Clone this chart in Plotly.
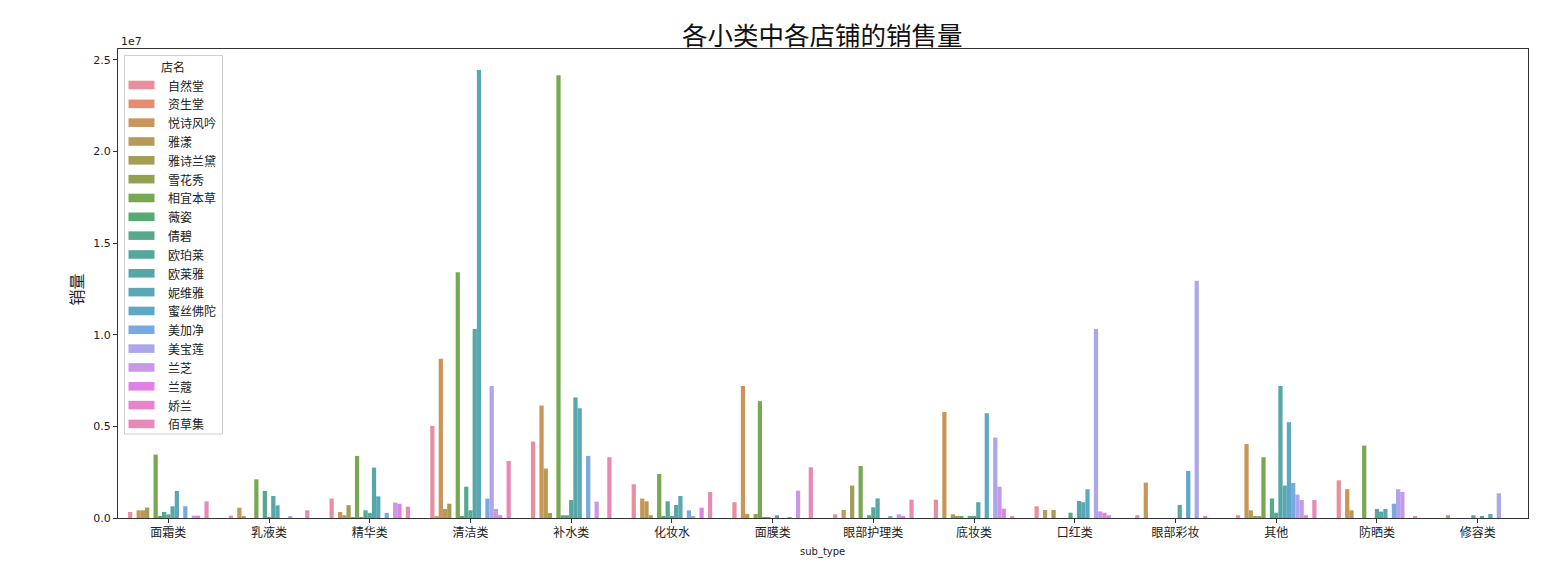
import math
import colorsys
import plotly.graph_objects as go

# ---------------- data ----------------
categories = ["面霜类", "乳液类", "精华类", "清洁类", "补水类", "化妆水", "面膜类",
              "眼部护理类", "底妆类", "口红类", "眼部彩妆", "其他", "防晒类", "修容类"]
stores = ["自然堂", "资生堂", "悦诗风吟", "雅漾", "雅诗兰黛", "雪花秀", "相宜本草", "薇姿",
          "倩碧", "欧珀莱", "欧莱雅", "妮维雅", "蜜丝佛陀", "美加净", "美宝莲", "兰芝",
          "兰蔻", "娇兰", "佰草集"]

# sales per category, one value per store (same order as `stores`)
mianshuang = [0.33e6, 0, 0.42e6, 0.42e6, 0.57e6, 0, 3.46e6, 0.1e6, 0.33e6, 0.2e6, 0.64e6, 1.48e6, 0, 0.64e6, 0, 0.13e6, 0.13e6, 0, 0.91e6]
ruye = [0.13e6, 0, 0.56e6, 0.07e6, 0, 0, 2.11e6, 0, 1.48e6, 0.05e6, 1.2e6, 0.69e6, 0, 0, 0.07e6, 0, 0, 0, 0.42e6]
jinghua = [1.06e6, 0, 0.33e6, 0.15e6, 0.7e6, 0.05e6, 3.39e6, 0.03e6, 0.42e6, 0.28e6, 2.75e6, 1.18e6, 0, 0.28e6, 0, 0.84e6, 0.78e6, 0, 0.62e6]
qingjie = [5.03e6, 0.07e6, 8.69e6, 0.49e6, 0.78e6, 0, 13.42e6, 0.07e6, 1.71e6, 0.42e6, 10.31e6, 24.46e6, 0, 1.06e6, 7.21e6, 0.49e6, 0.15e6, 0, 3.11e6]
bushui = [4.17e6, 0, 6.14e6, 2.7e6, 0.27e6, 0, 24.17e6, 0.15e6, 0.15e6, 0.98e6, 6.58e6, 5.99e6, 0, 3.39e6, 0, 0.89e6, 0, 0, 3.32e6]
huazhuangshui = [1.84e6, 0, 1.06e6, 0.91e6, 0.15e6, 0, 2.4e6, 0.1e6, 0.91e6, 0.1e6, 0.71e6, 1.2e6, 0, 0.42e6, 0.1e6, 0, 0.56e6, 0, 1.42e6]
mianmo = [0.86e6, 0, 7.21e6, 0.22e6, 0, 0.22e6, 6.38e6, 0.05e6, 0.05e6, 0, 0.15e6, 0, 0, 0.05e6, 0, 1.49e6, 0, 0, 2.77e6]
yanbuhuli = [0.2e6, 0, 0.44e6, 0, 1.77e6, 0, 2.84e6, 0, 0.15e6, 0.58e6, 1.07e6, 0, 0, 0.09e6, 0, 0.2e6, 0.09e6, 0, 1.0e6]
dizhuang = [1.0e6, 0, 5.79e6, 0, 0.2e6, 0.09e6, 0.09e6, 0, 0.07e6, 0.07e6, 0.86e6, 0, 5.72e6, 0, 4.39e6, 1.71e6, 0.51e6, 0, 0.09e6]
kouhong = [0.64e6, 0, 0.44e6, 0, 0.44e6, 0, 0, 0, 0.29e6, 0, 0.93e6, 0.86e6, 1.57e6, 0, 10.31e6, 0.36e6, 0.29e6, 0.15e6, 0]
yanbucaizhuang = [0.15e6, 0, 1.93e6, 0, 0, 0, 0, 0, 0, 0, 0.71e6, 0, 2.57e6, 0, 12.95e6, 0, 0.07e6, 0, 0]
qita = [0.15e6, 0, 4.04e6, 0.42e6, 0.1e6, 0.1e6, 3.32e6, 0, 1.07e6, 0.29e6, 7.21e6, 1.77e6, 5.23e6, 1.91e6, 1.28e6, 0.98e6, 0.15e6, 0, 0.98e6]
fangshai = [2.06e6, 0, 1.57e6, 0.42e6, 0, 0, 3.95e6, 0, 0, 0.49e6, 0.35e6, 0.49e6, 0, 0.78e6, 1.57e6, 1.42e6, 0, 0, 0.07e6]
xiurong = [0, 0, 0.15e6, 0, 0, 0, 0, 0, 0.15e6, 0, 0.07e6, 0, 0.22e6, 0, 1.35e6, 0, 0, 0, 0]

by_category = [mianshuang, ruye, jinghua, qingjie, bushui, huazhuangshui, mianmo,
               yanbuhuli, dizhuang, kouhong, yanbucaizhuang, qita, fangshai, xiurong]

y_tick_vals = [0, 0.5e7, 1.0e7, 1.5e7, 2.0e7, 2.5e7]
y_tick_text = ["0.0", "0.5", "1.0", "1.5", "2.0", "2.5"]

# ---------------- colours (seaborn husl palette, desaturated, slightly transparent) ----------------
_M = [[3.240969941904521, -1.537383177570093, -0.498610760293],
      [-0.96924363628087, 1.87596750150772, 0.041555057407175],
      [0.055630079696993, -0.20397695888897, 1.056971514242878]]
_refU, _refV = 0.19783000664283, 0.46831999493879
_kappa, _eps = 903.2962962, 0.0088564516


def _max_chroma(L, H):
    hr = math.radians(H)
    sinH, cosH = math.sin(hr), math.cos(hr)
    sub1 = (L + 16) ** 3 / 1560896.0
    sub2 = sub1 if sub1 > _eps else L / _kappa
    res = float("inf")
    for m1, m2, m3 in _M:
        top = (0.99915 * m1 + 1.05122 * m2 + 1.14460 * m3) * sub2
        rb = 0.86330 * m3 - 0.17266 * m2
        lb = 0.12949 * m3 - 0.38848 * m1
        bottom = (rb * sinH + lb * cosH) * sub2
        for t in (0.0, 1.0):
            C = L * (top - 1.05122 * t) / (bottom + 0.17266 * sinH * t)
            if 0.0 < C < res:
                res = C
    return res


def _from_linear(c):
    return 12.92 * c if c <= 0.0031308 else 1.055 * c ** (1 / 2.4) - 0.055


def husl_to_rgb(h, s, l):
    C = _max_chroma(l, h) / 100.0 * s
    hr = math.radians(h)
    U, V = math.cos(hr) * C, math.sin(hr) * C
    Y = ((l + 16.0) / 116.0) ** 3 if l > 8 else l / _kappa
    vu = U / (13.0 * l) + _refU
    vv = V / (13.0 * l) + _refV
    X = 0.0 - (9.0 * Y * vu) / ((vu - 4.0) * vv - vu * vv)
    Z = (9.0 * Y - 15.0 * vv * Y - vv * X) / (3.0 * vv)
    return [min(1, max(0, _from_linear(a * X + b * Y + c * Z))) for a, b, c in _M]


def palette(n, alpha=0.9):
    out = []
    for i in range(n):
        h = ((i / n) + 0.01) % 1 * 359
        r, g, b = husl_to_rgb(h, 0.9 * 99, 0.65 * 99)
        hh, ll, ss = colorsys.rgb_to_hls(r, g, b)
        r, g, b = colorsys.hls_to_rgb(hh, ll, ss * 0.75)
        r, g, b = [alpha * c + (1 - alpha) for c in (r, g, b)]
        out.append("rgb(%d,%d,%d)" % (round(r * 255), round(g * 255), round(b * 255)))
    return out


colors = palette(len(stores))

# ---------------- figure ----------------
fig = go.Figure()
for j, store in enumerate(stores):
    fig.add_trace(go.Bar(
        x=categories,
        y=[vals[j] for vals in by_category],
        name=store,
        marker=dict(color=colors[j], line=dict(width=0)),
        showlegend=False,
    ))

OFF = 8  # page body margin
L, R, T, B = 117.5 - OFF, 36.3, 49 - OFF, 48
W, H = 1564 - OFF, 566 - OFF
PW, PH = W - L - R, H - T - B


def px(x):
    return (x - OFF - L) / PW


def py(y):
    return (H - B - (y - OFF)) / PH


shapes = []
annotations = []

# legend box
shapes.append(dict(type="rect", xref="paper", yref="paper",
                   x0=px(124), x1=px(222), y0=py(434), y1=py(55.5),
                   line=dict(color="#d0d0d0", width=1), fillcolor="rgba(255,255,255,0.8)", layer="above"))
annotations.append(dict(text="店名", xref="paper", yref="paper", x=px(173), y=py(66),
                        showarrow=False, xanchor="center", yanchor="middle",
                        font=dict(family="Noto Sans CJK SC", size=12, color="#222")))
for j, store in enumerate(stores):
    yc = 85 + j * 18.83
    shapes.append(dict(type="rect", xref="paper", yref="paper",
                       x0=px(128), x1=px(154), y0=py(yc + 4.3), y1=py(yc - 4.3),
                       line=dict(width=0), fillcolor=colors[j], layer="above"))
    annotations.append(dict(text=store, xref="paper", yref="paper", x=px(166), y=py(yc),
                            showarrow=False, xanchor="left", yanchor="middle",
                            font=dict(family="Noto Sans CJK SC", size=12, color="#222")))

annotations.append(dict(text="1e7", xref="paper", yref="paper", x=px(119), y=py(42),
                        showarrow=False, xanchor="left", yanchor="middle",
                        font=dict(family="DejaVu Sans", size=11, color="#222")))
annotations.append(dict(text="销量", xref="paper", yref="paper", x=px(75), y=py(290),
                        showarrow=False, xanchor="center", yanchor="middle", textangle=-90,
                        font=dict(family="Noto Sans CJK SC", size=16, color="#222")))
annotations.append(dict(text="sub_type", xref="paper", yref="paper", x=px(822), y=py(552),
                        showarrow=False, xanchor="center", yanchor="middle",
                        font=dict(family="DejaVu Sans", size=10, color="#222")))
annotations.append(dict(text="各小类中各店铺的销售量", xref="paper", yref="paper", x=px(822), y=py(33),
                        showarrow=False, xanchor="center", yanchor="middle",
                        font=dict(family="Noto Sans CJK SC", size=25.5, color="#111")))

fig.update_layout(
    width=W, height=H,
    margin=dict(l=L, r=R, t=T, b=B, pad=0),
    paper_bgcolor="white", plot_bgcolor="white",
    barmode="group", bargap=0.2, bargroupgap=0,
    shapes=shapes, annotations=annotations,
    showlegend=False,
)
fig.update_xaxes(
    type="category", range=[-0.5, 13.5],
    showline=True, linecolor="#333", linewidth=1, mirror=True,
    ticks="outside", ticklen=4, tickcolor="#333", showgrid=False,
    tickfont=dict(family="Noto Sans CJK SC", size=12, color="#222"),
)
fig.update_yaxes(
    range=[0, 2.56e7],
    showline=True, linecolor="#333", linewidth=1, mirror=True,
    ticks="outside", ticklen=4, tickcolor="#333", showgrid=False, zeroline=False,
    tickvals=y_tick_vals, ticktext=y_tick_text,
    tickfont=dict(family="DejaVu Sans", size=11, color="#222"),
)

fig.write_html("out.html")
